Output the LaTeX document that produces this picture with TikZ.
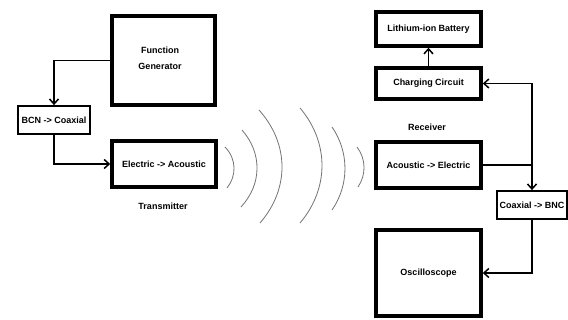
\documentclass[tikz,border=0pt]{standalone}
\usepackage{fontspec}
\setmainfont{Liberation Sans}
\usetikzlibrary{arrows.meta}
\begin{document}
\begin{tikzpicture}[x=1pt,y=-1pt,
  thickbox/.style={draw=black,line width=3.5pt,fill=white,inner sep=0pt,font=\bfseries\fontsize{9}{16}\selectfont,align=center},
  thinbox/.style={draw=black,line width=1.8pt,fill=white,inner sep=0pt,font=\bfseries\fontsize{9}{11}\selectfont,align=center},
  conn/.style={draw=black,line width=1.5pt},
  arr/.style={conn,-{Straight Barb[length=5pt,width=9pt,line width=1.5pt]}},
  lbl/.style={font=\bfseries\fontsize{9}{11}\selectfont},
  wave/.style={draw=black!55,line width=0.8pt}]
\useasboundingbox (0,0) rectangle (568,320);
\fill[white] (0,0) rectangle (568,320);
% left side
\node[thickbox,minimum width=103pt,minimum height=89pt] (fg) at (163.5,60.5) {};
\node (fgt) at (160,58) [font=\bfseries\fontsize{9}{16}\selectfont,align=center] {Function\\Generator};
\node[thinbox,minimum width=72pt,minimum height=28pt] (bcn) at (54,120) {BCN -> Coaxial};
\node[thickbox,minimum width=104pt,minimum height=46pt] (ea) at (164,164) {Electric -> Acoustic};
\node[lbl] (tx) at (163,206) {Transmitter};
% right side
\node[thickbox,minimum width=105pt,minimum height=34pt] (lib) at (428.5,29) {Lithium-ion Battery};
\node[thickbox,minimum width=105pt,minimum height=31pt] (cc) at (428.5,83.5) {Charging Circuit};
\node[lbl] (rx) at (427,127) {Receiver};
\node[thickbox,minimum width=105pt,minimum height=46pt] (ae) at (428.5,165) {Acoustic -> Electric};
\node[thinbox,minimum width=70pt,minimum height=28pt] (coax) at (532,205) {Coaxial -> BNC};
\node[thickbox,minimum width=105pt,minimum height=86pt] (osc) at (428.5,273) {Oscilloscope};
% connectors
\draw[arr] (fg.west) -| (bcn.north);
\draw[arr] (bcn.south) |- (ea.west);
\draw[arr] (cc.north) -- (lib.south);
\draw[arr] (ae.east) -| (coax.north);
\draw[arr] (ae.east -| coax.north) |- (cc.east);
\draw[arr] (coax.south) |- (osc.east);
% waves
\draw[wave] (225,147) .. controls (236.7,159) and (236.7,176) .. (227,188);
\draw[wave] (242,130) .. controls (262.2,153) and (262.2,184) .. (241,207);
\draw[wave] (259,110) .. controls (289.5,144) and (289.5,189) .. (260,223);
\draw[wave] (300,108) .. controls (329.3,142.5) and (329.3,188.5) .. (300,223);
\draw[wave] (332,127) .. controls (349.3,152) and (349.3,185) .. (332,210);
\draw[wave] (357,147) .. controls (366.2,159) and (366.2,175) .. (358,187);
\end{tikzpicture}
\end{document}
